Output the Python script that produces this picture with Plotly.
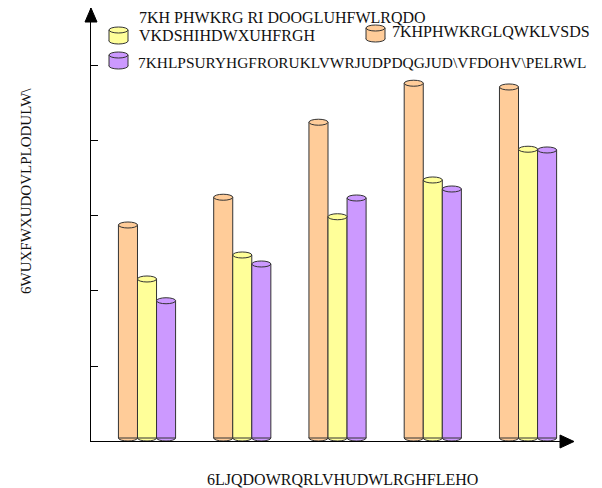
import plotly.graph_objects as go

# Structural similarity for each method at five signal-to-noise levels
groups = [0, 1, 2, 3, 4]
orange_vals = [0.288, 0.325, 0.425, 0.477, 0.472]
yellow_vals = [0.216, 0.248, 0.299, 0.348, 0.389]
purple_vals = [0.187, 0.236, 0.324, 0.336, 0.388]

name_orange = "7KHPHWKRGLQWKLVSDS"
name_yellow_1 = "7KH PHWKRG RI DOOGLUHFWLRQDO"
name_yellow_2 = "VKDSHIHDWXUHFRGH"
name_purple = "7KHLPSURYHGFRORUKLVWRJUDPDQGJUD\\VFDOHV\\PELRWL"
x_title = "6LJQDOWRQRLVHUDWLRGHFLEHO"
y_title = "6WUXFWXUDOVLPLODULW\\"
y_ticks = [0.1, 0.2, 0.3, 0.4, 0.5]

C_ORANGE = "#FFCC99"
C_YELLOW = "#FFFF99"
C_PURPLE = "#CC99FF"
EDGE = "#333333"
FONT = "Liberation Serif"
FSIZE = 16

W, H = 602, 488
L, R, T, B = 91, 573, 8, 441  # plot area in pixels


def px(xp, yp):
    """Pixel position -> paper coordinates."""
    return (xp - L) / (R - L), (B - yp) / (B - T)


bar_w = 0.2
base = 0.004
series = [
    (orange_vals, C_ORANGE, -0.3),
    (yellow_vals, C_YELLOW, -0.1),
    (purple_vals, C_PURPLE, 0.1),
]

fig = go.Figure()
shapes = []
for vals, col, off in series:
    fig.add_trace(go.Bar(
        x=groups, y=[v - base for v in vals], base=base,
        width=bar_w, offset=off, marker=dict(color=col, line=dict(color=EDGE, width=1)),
        showlegend=False,
    ))
    for g, v in zip(groups, vals):
        # rounded cylinder bottom
        shapes.append(dict(type="circle", xref="x", yref="y", x0=g + off, x1=g + off + bar_w,
                           ysizemode="pixel", yanchor=base, y0=-3, y1=3,
                           fillcolor=col, line=dict(color=EDGE, width=1), layer="below"))
        # cylinder top cap
        shapes.append(dict(type="circle", xref="x", yref="y", x0=g + off, x1=g + off + bar_w,
                           ysizemode="pixel", yanchor=v, y0=-3, y1=3,
                           fillcolor=col, line=dict(color=EDGE, width=1), layer="above"))

# axis arrowheads
ax, ay = px(85, 22); bx, by = px(97, 22); tx, ty = px(91, 8)
shapes.append(dict(type="path", xref="paper", yref="paper",
                   path=f"M {ax},{ay} L {bx},{by} L {tx},{ty} Z",
                   fillcolor="black", line=dict(color="black", width=1), layer="above"))
ax, ay = px(560, 435); bx, by = px(560, 448); tx, ty = px(574, 441.5)
shapes.append(dict(type="path", xref="paper", yref="paper",
                   path=f"M {ax},{ay} L {bx},{by} L {tx},{ty} Z",
                   fillcolor="black", line=dict(color="black", width=1), layer="above"))


def legend_icon(x0, y0, x1, y1, col):
    out = []
    e = 3
    a0, b0 = px(x0, y1 - e)
    a1, b1 = px(x1, y1 + e)
    out.append(dict(type="circle", xref="paper", yref="paper", x0=a0, x1=a1, y0=b0, y1=b1,
                    fillcolor=col, line=dict(color=EDGE, width=1)))
    a0, b0 = px(x0, y1)
    a1, b1 = px(x1, y0 + e)
    out.append(dict(type="rect", xref="paper", yref="paper", x0=a0, x1=a1, y0=b0, y1=b1,
                    fillcolor=col, line=dict(width=0)))
    a0, b0 = px(x0, y1); a1, b1 = px(x0, y0 + e)
    out.append(dict(type="line", xref="paper", yref="paper", x0=a0, x1=a1, y0=b0, y1=b1,
                    line=dict(color=EDGE, width=1)))
    a0, b0 = px(x1, y1); a1, b1 = px(x1, y0 + e)
    out.append(dict(type="line", xref="paper", yref="paper", x0=a0, x1=a1, y0=b0, y1=b1,
                    line=dict(color=EDGE, width=1)))
    a0, b0 = px(x0, y0 + 2 * e)
    a1, b1 = px(x1, y0)
    out.append(dict(type="circle", xref="paper", yref="paper", x0=a0, x1=a1, y0=b0, y1=b1,
                    fillcolor=col, line=dict(color=EDGE, width=1)))
    return out


shapes += legend_icon(109, 27, 128, 41, C_YELLOW)
shapes += legend_icon(366, 25, 385, 39, C_ORANGE)
shapes += legend_icon(109, 52, 128, 66, C_PURPLE)

annotations = []


def text_at(xp, yp, s, anchor="left", angle=0, size=FSIZE):
    xa, ya = px(xp, yp)
    annotations.append(dict(x=xa, y=ya, xref="paper", yref="paper", text=s, showarrow=False,
                            xanchor=anchor, yanchor="middle", textangle=angle, align="left",
                            borderpad=0,
                            font=dict(family=FONT, size=size, color="#111111")))


text_at(138, 17, name_yellow_1)
text_at(138, 36, name_yellow_2)
text_at(391, 32, name_orange)
text_at(137, 63, name_purple, size=15.4)
text_at(342, 479, x_title, anchor="center")
text_at(26, 191, y_title, anchor="center", angle=-90, size=15)

fig.update_layout(
    width=W, height=H,
    margin=dict(l=L, r=W - R, t=T, b=H - B, pad=0),
    paper_bgcolor="white", plot_bgcolor="white",
    barmode="overlay",
    shapes=shapes, annotations=annotations,
    font=dict(family=FONT, size=FSIZE, color="#111111"),
    xaxis=dict(range=[-0.588, 4.472], showgrid=False, zeroline=False, showticklabels=False,
               ticks="", showline=True, linecolor="black", linewidth=1),
    yaxis=dict(range=[0, 0.5773], showgrid=False, zeroline=False, showticklabels=False,
               tickvals=y_ticks, ticks="inside", ticklen=7, tickcolor="black",
               showline=True, linecolor="black", linewidth=1),
)

fig.write_html("out.html")
